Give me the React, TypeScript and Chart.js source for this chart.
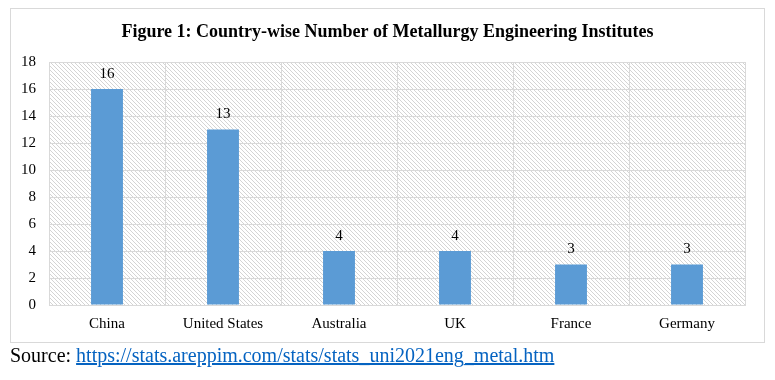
import React, { useEffect, useRef } from "react";
import { Chart, registerables } from "chart.js";
Chart.register(...registerables);

const categories = ["China", "United States", "Australia", "UK", "France", "Germany"];
const institutes = [16, 13, 4, 4, 3, 3];
const yMin = 0;
const yMax = 18;
const yStep = 2;
const titleText = "Figure 1: Country-wise Number of Metallurgy Engineering Institutes";
const sourceLabel = "Source: ";
const sourceUrl = "https://stats.areppim.com/stats/stats_uni2021eng_metal.htm";

const SERIF = "'Liberation Serif', 'Times New Roman', serif";
const GRID = "#d9d9d9";
const BAR = "#5b9bd5";

function makeHatch(): CanvasPattern | string {
  const c = document.createElement("canvas");
  c.width = 4;
  c.height = 4;
  const g = c.getContext("2d");
  if (!g) return "#fff";
  g.fillStyle = "#ffffff";
  g.fillRect(0, 0, 4, 4);
  g.fillStyle = "#d4d4d4";
  for (let i = 0; i < 4; i++) g.fillRect(i, i, 1, 1);
  const p = g.createPattern(c, "repeat");
  return p || "#fff";
}

export default function App() {
  const ref = useRef<HTMLCanvasElement | null>(null);

  useEffect(() => {
    if (!ref.current) return;
    const hatch = makeHatch();
    const hatchPlugin = {
      id: "hatchBg",
      beforeDraw(chart: any) {
        const { ctx, chartArea } = chart;
        ctx.save();
        ctx.fillStyle = hatch;
        ctx.fillRect(chartArea.left, chartArea.top, chartArea.right - chartArea.left, chartArea.bottom - chartArea.top);
        ctx.restore();
      },
    };
    const labelPlugin = {
      id: "valueLabels",
      afterDatasetsDraw(chart: any) {
        const { ctx } = chart;
        const meta = chart.getDatasetMeta(0);
        ctx.save();
        ctx.font = `15px ${SERIF}`;
        ctx.fillStyle = "#000";
        ctx.textAlign = "center";
        ctx.textBaseline = "middle";
        meta.data.forEach((el: any, i: number) => {
          ctx.fillText(String(institutes[i]), el.x, el.y - 15);
        });
        ctx.restore();
      },
      afterDraw(chart: any) {
        const { ctx, width } = chart;
        ctx.save();
        ctx.font = `bold 18px ${SERIF}`;
        ctx.fillStyle = "#000";
        ctx.textAlign = "center";
        ctx.textBaseline = "middle";
        ctx.fillText(titleText, width / 2, 32);
        ctx.restore();
      },
    };
    const chart = new Chart(ref.current, {
      type: "bar",
      data: {
        labels: categories,
        datasets: [
          {
            data: institutes,
            backgroundColor: BAR,
            barPercentage: 0.275,
            categoryPercentage: 1,
          },
        ],
      },
      options: {
        responsive: false,
        animation: false,
        devicePixelRatio: 1,
        layout: { padding: { left: 10, right: 30, top: 62, bottom: 45 } },
        plugins: { legend: { display: false }, title: { display: false }, tooltip: { enabled: false } },
        scales: {
          x: {
            grid: { color: GRID, drawTicks: false, lineWidth: 1 },
            border: { color: GRID },
            ticks: { color: "#000", font: { family: SERIF, size: 15 }, padding: 10, maxRotation: 0 },
            afterFit: (s: any) => {
              s.height = 30;
            },
          },
          y: {
            min: yMin,
            max: yMax,
            grid: { color: GRID, drawTicks: false, lineWidth: 1 },
            border: { color: GRID },
            ticks: { stepSize: yStep, color: "#000", font: { family: SERIF, size: 15 }, padding: 13 },
            afterFit: (s: any) => {
              s.width = 39;
            },
          },
        },
      },
      plugins: [hatchPlugin, labelPlugin],
    });
    return () => chart.destroy();
  }, []);

  return (
    <div style={{ position: "fixed", left: 0, top: 0, width: 775, height: 380, background: "#fff" }}>
      <div
        style={{
          position: "absolute",
          left: 10,
          top: 8,
          width: 753,
          height: 333,
          border: `1px solid ${GRID}`,
        }}
      />
      <canvas ref={ref} width={775} height={380} style={{ position: "absolute", left: 0, top: 0 }} />
      <div
        style={{
          position: "absolute",
          left: 10,
          top: 344,
          fontFamily: SERIF,
          fontSize: 20,
          lineHeight: "23px",
          color: "#000",
          whiteSpace: "nowrap",
        }}
      >
        {sourceLabel}
        <a href={sourceUrl} style={{ color: "#0563c1", textDecoration: "underline" }}>
          {sourceUrl}
        </a>
      </div>
    </div>
  );
}
